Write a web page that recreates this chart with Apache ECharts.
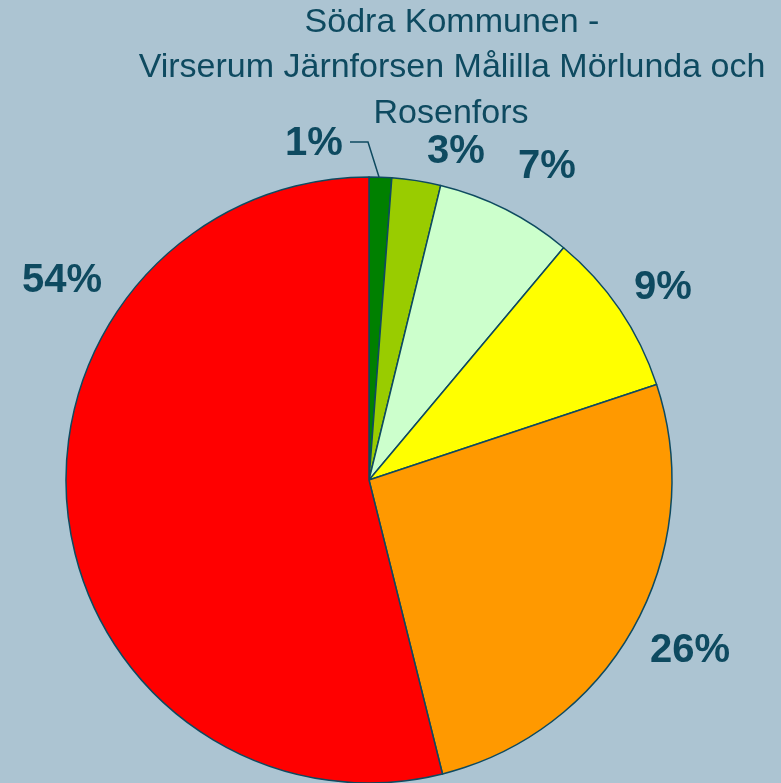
<!DOCTYPE html>
<html>
<head>
<meta charset="utf-8">
<script src="https://cdn.jsdelivr.net/npm/echarts@6/dist/echarts.min.js"></script>
<style>
  html, body { margin: 0; padding: 0; background: #acc4d2; }
  #chart { width: 781px; height: 783px; }
</style>
</head>
<body>
<div id="chart"></div>
<script>
// andelar medurs från kl 12
const categories = ['A', 'B', 'C', 'D', 'E', 'F'];
const values = [1.2, 2.6, 7.3, 8.8, 26.2, 53.9];
const titleLines = ['Södra Kommunen -', 'Virserum Järnforsen Målilla Mörlunda och', 'Rosenfors'];

const sliceColors = ['#008000', '#99cc00', '#ccffcc', '#ffff00', '#ff9900', '#ff0000'];
// etikettplacering (som i originalet, flyttade för hand)
const labelPos = [[314, 144], [456, 152], [547, 167], [663, 288], [690, 651], [62, 281]];
const textColor = '#0e4a60';

const chart = echarts.init(document.getElementById('chart'));

const titleStyle = {
  color: textColor,
  fontFamily: 'Liberation Sans, Arial, sans-serif',
  fontSize: 34,
  fontWeight: 'normal'
};

chart.setOption({
  backgroundColor: '#acc4d2',
  animation: false,
  title: [
    { text: titleLines[0], left: 452, top: 6, textAlign: 'center', padding: 0, textStyle: titleStyle },
    { text: titleLines[1], left: 452, top: 51, textAlign: 'center', padding: 0, textStyle: titleStyle },
    { text: titleLines[2], left: 451, top: 97, textAlign: 'center', padding: 0, textStyle: titleStyle }
  ],
  series: [{
    type: 'pie',
    center: [369, 480],
    radius: [0, 303],
    startAngle: 90,
    clockwise: true,
    percentPrecision: 0,
    silent: true,
    avoidLabelOverlap: false,
    itemStyle: {
      borderColor: textColor,
      borderWidth: 1.5
    },
    label: {
      show: true,
      position: 'outside',
      formatter: '{d}%',
      overflow: 'none',
      color: textColor,
      fontFamily: 'Liberation Sans, Arial, sans-serif',
      fontSize: 40,
      fontWeight: 'bold'
    },
    labelLine: {
      show: false,
      lineStyle: { color: textColor, width: 1.5 }
    },
    labelLayout: function (params) {
      const p = labelPos[params.dataIndex];
      const res = { x: p[0], y: p[1], align: 'center', verticalAlign: 'middle' };
      if (params.dataIndex === 0) {
        res.labelLinePoints = [[350, 142], [368, 142], [379, 177]];
      }
      return res;
    },
    data: categories.map((c, i) => ({
      name: c,
      value: values[i],
      itemStyle: { color: sliceColors[i] },
      labelLine: { show: i === 0 }
    }))
  }]
});
</script>
</body>
</html>
